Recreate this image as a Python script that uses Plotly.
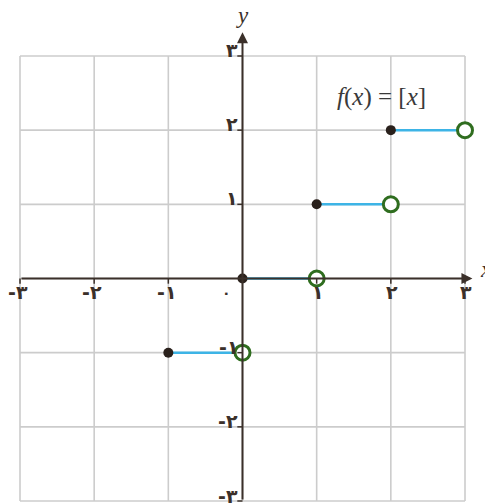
import plotly.graph_objects as go

# ---- data ----
x_tick_values = [-3, -2, -1, 1, 2, 3]
x_tick_labels = ['-۳', '-۲', '-۱', '۱', '۲', '۳']
y_tick_values = [-3, -2, -1, 1, 2, 3]
y_tick_labels = ['-۳', '-۲', '-۱', '۱', '۲', '۳']
origin_label = '۰'

seg_start = [-1, 0, 1, 2]
seg_end = [0, 1, 2, 3]
seg_value = [-1, 0, 1, 2]

grid_min, grid_max = -3, 3

# ---- styles ----
AXIS_COLOR = '#3b302a'
GRID_COLOR = '#cccccc'
LINE_COLOR = '#3db4e6'
OPEN_COLOR = '#2f6d1f'
TXT_FONT = dict(family='DejaVu Sans', size=19, color=AXIS_COLOR, weight='bold')

fig = go.Figure()

shapes = []
for v in range(grid_min, grid_max + 1):
    shapes.append(dict(type='line', xref='x', yref='y', x0=v, x1=v, y0=grid_min, y1=grid_max,
                       line=dict(color=GRID_COLOR, width=1.6), layer='below'))
    shapes.append(dict(type='line', xref='x', yref='y', y0=v, y1=v, x0=grid_min, x1=grid_max,
                       line=dict(color=GRID_COLOR, width=1.6), layer='below'))
# small tick marks
for v in y_tick_values:
    shapes.append(dict(type='line', xref='x', yref='y', x0=-0.07, x1=0, y0=v, y1=v,
                       line=dict(color=AXIS_COLOR, width=1.5)))
for v in x_tick_values:
    shapes.append(dict(type='line', xref='x', yref='y', x0=v, x1=v, y0=-0.07, y1=0,
                       line=dict(color=AXIS_COLOR, width=1.5)))

annotations = []
# axes with arrows
annotations.append(dict(x=3.1, y=0, ax=-3, ay=0, xref='x', yref='y', axref='x', ayref='y',
                        text='', showarrow=True, arrowhead=2, arrowsize=1.1, arrowwidth=2,
                        arrowcolor=AXIS_COLOR, standoff=0))
annotations.append(dict(x=0, y=3.32, ax=0, ay=-3, xref='x', yref='y', axref='x', ayref='y',
                        text='', showarrow=True, arrowhead=2, arrowsize=1.1, arrowwidth=2,
                        arrowcolor=AXIS_COLOR, standoff=0))

for v, t in zip(x_tick_values, x_tick_labels):
    annotations.append(dict(x=v, y=0, xref='x', yref='y', text=t, showarrow=False,
                            xanchor='center', yanchor='middle', yshift=-13,
                            xshift=-2 if v < 0 else 1, font=TXT_FONT))
annotations.append(dict(x=0, y=0, xref='x', yref='y', text=origin_label, showarrow=False,
                        xanchor='center', yanchor='middle', xshift=-16, yshift=-14,
                        font=dict(family='DejaVu Sans', size=14, color=AXIS_COLOR, weight='bold')))
for v, t in zip(y_tick_values, y_tick_labels):
    annotations.append(dict(x=0, y=v, xref='x', yref='y', text=t, showarrow=False,
                            xanchor='right', yanchor='middle', xshift=-3,
                            yshift=5 if v == -3 else 6,
                            font=TXT_FONT))

annotations.append(dict(x=0, y=3.55, xref='x', yref='y', text='<i>y</i>', showarrow=False,
                        font=dict(family='Liberation Serif', size=23, color=AXIS_COLOR)))
annotations.append(dict(x=3.175, y=0.12, xref='x', yref='y', text='<i>x</i>', showarrow=False,
                        xanchor='left',
                        font=dict(family='Liberation Serif', size=23, color=AXIS_COLOR)))
annotations.append(dict(x=1.87, y=2.45, xref='x', yref='y',
                        text='<i>f</i>(<i>x</i>) = [<i>x</i>]', showarrow=False,
                        font=dict(family='Liberation Serif', size=25, color='#3a3a3a')))

# step segments
for a, b, v in zip(seg_start, seg_end, seg_value):
    fig.add_trace(go.Scatter(x=[a, b], y=[v, v], mode='lines',
                             line=dict(color=LINE_COLOR, width=2.5),
                             hoverinfo='skip', showlegend=False, cliponaxis=False))
# closed endpoints
fig.add_trace(go.Scatter(x=seg_start, y=seg_value, mode='markers',
                         marker=dict(size=10, color='#2a211c'),
                         showlegend=False, cliponaxis=False))
# open endpoints
fig.add_trace(go.Scatter(x=seg_end, y=seg_value, mode='markers',
                         marker=dict(size=15, color='white', line=dict(color=OPEN_COLOR, width=3)),
                         showlegend=False, cliponaxis=False))

fig.update_layout(
    width=485, height=504,
    margin=dict(l=0, r=0, t=0, b=0),
    paper_bgcolor='white', plot_bgcolor='white',
    xaxis=dict(range=[-3.2697, 3.2697], showgrid=False, zeroline=False,
               showticklabels=False, fixedrange=True),
    yaxis=dict(range=[-3.0404, 3.755], showgrid=False, zeroline=False,
               showticklabels=False, fixedrange=True),
    shapes=shapes,
    annotations=annotations,
)

fig.write_html('out.html', config={'displayModeBar': False},
               post_script="document.body.style.margin='0';document.body.style.overflow='hidden';")
